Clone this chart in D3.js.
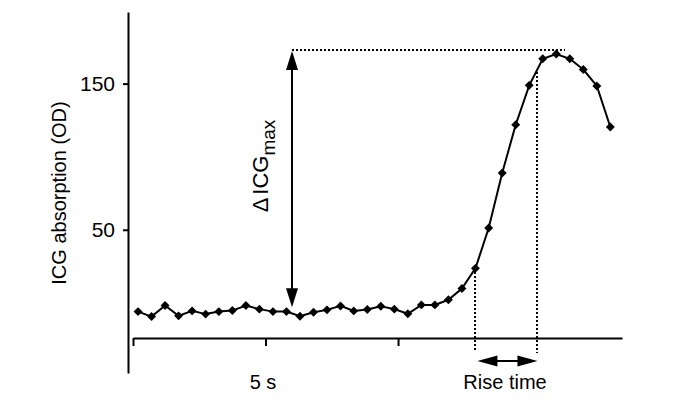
<!DOCTYPE html>
<html>
<head>
<meta charset="utf-8">
<script src="https://cdn.jsdelivr.net/npm/d3@7"></script>
<style>
	body { margin: 0; background: #ffffff; }
	svg { display: block; }
	text { font-family: "Liberation Sans", Arial, sans-serif; fill: #000000; }
</style>
</head>
<body>
<script>
// sample times (s) and ICG absorption (OD)
var times = [0.19, 0.70, 1.21, 1.72, 2.23, 2.74, 3.24, 3.75, 4.26, 4.77,
	5.28, 5.79, 6.30, 6.81, 7.32, 7.83, 8.33, 8.84, 9.35, 9.86,
	10.37, 10.88, 11.39, 11.90, 12.41, 12.92, 13.42, 13.93, 14.44, 14.95,
	15.46, 15.97, 16.48, 16.99, 17.50, 18.01];
var absorption = [-6.0, -9.4, -1.8, -8.9, -5.5, -7.7, -6.0, -5.3, -1.8, -4.3,
	-6.0, -6.0, -9.2, -6.4, -4.8, -2.1, -5.5, -4.5, -2.3, -4.3,
	-7.5, -1.4, -1.4, 2.1, 9.8, 23.6, 51.2, 88.8, 121.9, 148.8,
	167.0, 170.3, 167.0, 159.6, 148.4, 120.3];
var yTicks = [50, 150];
var xTicks = [0, 5, 10];
var xLabel = "5 s";
var yLabel = "ICG absorption (OD)";
// annotation levels
var maxLevel = 173;
var baseLevel = -3;
var deltaTime = 6.0;
var maxLineEnd = 16.3;
var riseStart = 12.92;
var riseEnd = 15.26;
var riseTop = 158;

var svg = d3.select("body")
	.append("svg")
	.attr("width", 675)
	.attr("height", 400);

var x = d3.scaleLinear().domain([0, 18.45]).range([133, 622]);
var y = d3.scaleLinear().domain([-48, 199]).range([373, 12]);

// y axis
var yAxis = svg.append("g")
	.attr("transform", "translate(128,0)")
	.call(d3.axisLeft(y).tickValues(yTicks).tickSize(5).tickSizeOuter(0).tickPadding(8));
yAxis.select(".domain").attr("stroke-width", 2);
yAxis.selectAll(".tick line").attr("stroke-width", 2);
yAxis.selectAll(".tick text")
	.style("font-size", "21px")
	.style("font-family", "'Liberation Sans', Arial, sans-serif");

// x axis
var xAxis = svg.append("g")
	.attr("transform", "translate(0,338)")
	.call(d3.axisBottom(x).tickValues(xTicks).tickSize(8).tickSizeOuter(0).tickFormat(""));
xAxis.select(".domain").attr("stroke-width", 2);
xAxis.selectAll(".tick line").attr("stroke-width", 2);

svg.append("text")
	.attr("x", 263)
	.attr("y", 389)
	.attr("text-anchor", "middle")
	.style("font-size", "20px")
	.text(xLabel);

svg.append("text")
	.attr("transform", "translate(66,193) rotate(-90)")
	.attr("text-anchor", "middle")
	.style("font-size", "20px")
	.text(yLabel);

// dotted guides
var dotted = function (x1, y1, x2, y2) {
	svg.append("line")
		.attr("x1", Math.round(x1)).attr("y1", Math.round(y1))
		.attr("x2", Math.round(x2)).attr("y2", Math.round(y2))
		.attr("stroke", "#000")
		.attr("stroke-width", 2)
		.attr("stroke-dasharray", "2,2")
		.attr("shape-rendering", "crispEdges");
};
dotted(x(deltaTime), y(maxLevel), x(maxLineEnd), y(maxLevel));
dotted(x(riseStart), y(absorption[25]), x(riseStart), 351);
dotted(x(riseEnd), y(riseTop), x(riseEnd), 353);

// arrow helper: solid shaft with filled heads at both ends
function doubleArrow(x1, y1, x2, y2, len, half) {
	var dx = x2 - x1, dy = y2 - y1;
	var d = Math.sqrt(dx * dx + dy * dy);
	var ux = dx / d, uy = dy / d;
	var px = -uy, py = ux;
	svg.append("line")
		.attr("x1", x1 + ux * len * 0.5).attr("y1", y1 + uy * len * 0.5)
		.attr("x2", x2 - ux * len * 0.5).attr("y2", y2 - uy * len * 0.5)
		.attr("stroke", "#000")
		.attr("stroke-width", 2);
	[[x1, y1, 1], [x2, y2, -1]].forEach(function (e) {
		var bx = e[0] + ux * len * e[2], by = e[1] + uy * len * e[2];
		svg.append("path")
			.attr("d", "M" + e[0] + "," + e[1] +
				"L" + (bx + px * half) + "," + (by + py * half) +
				"L" + (bx - px * half) + "," + (by - py * half) + "Z")
			.attr("fill", "#000");
	});
}
doubleArrow(x(deltaTime), y(maxLevel) + 1, x(deltaTime), y(baseLevel), 19, 6);
doubleArrow(x(riseStart) + 2, 361, x(riseEnd), 361, 20, 5.5);

// delta label
var dl = svg.append("text")
	.attr("transform", "translate(268,166) rotate(-90)")
	.attr("text-anchor", "middle")
	.style("font-size", "22px");
dl.append("tspan").text("\u0394");
dl.append("tspan").attr("dx", 3).text("ICG");
dl.append("tspan").attr("dy", 7).style("font-size", "19px").text("max");

svg.append("text")
	.attr("x", 505)
	.attr("y", 389)
	.attr("text-anchor", "middle")
	.style("font-size", "20px")
	.text("Rise time");

// data line and markers
var pts = times.map(function (t, i) { return [t, absorption[i]]; });
var line = d3.line()
	.x(function (d) { return x(d[0]); })
	.y(function (d) { return y(d[1]); });
svg.append("path")
	.datum(pts)
	.attr("d", line)
	.attr("fill", "none")
	.attr("stroke", "#000")
	.attr("stroke-width", 2);
var sym = d3.symbol().type(d3.symbolSquare).size(40);
svg.selectAll(".pt")
	.data(pts)
	.enter()
	.append("path")
	.attr("class", "pt")
	.attr("d", sym)
	.attr("transform", function (d) { return "translate(" + x(d[0]) + "," + y(d[1]) + ") rotate(45)"; })
	.attr("fill", "#000");
</script>
</body>
</html>
